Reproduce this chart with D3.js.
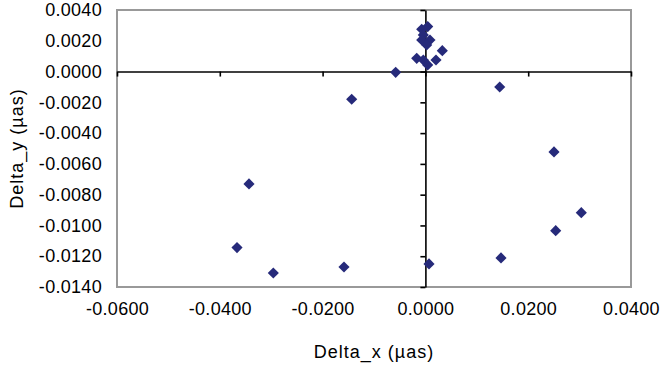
<!DOCTYPE html>
<html>
<head>
<meta charset="utf-8">
<script src="https://cdn.jsdelivr.net/npm/d3@7/dist/d3.min.js"></script>
<style>
  html, body { margin: 0; padding: 0; background: #fff; }
  svg { display: block; }
  text { font-family: "Liberation Sans", Arial, sans-serif; fill: #000; }
</style>
</head>
<body>
<svg id="chart" width="664" height="370"></svg>
<script>
// ---- data ----
const deltaX = [
  0.00045, -0.00072, -0.00041, -0.00072, 0.00089, 0.00025, 0.00329, -0.00169, -0.00041, 0.00206, 0.00045,
  -0.00578, -0.01434,
  -0.03432, -0.03665, -0.02959, -0.01584,
  0.01446, 0.02502, 0.03033, 0.02535, 0.01471,
  0.00070
];
const deltaY = [
  0.00292, 0.00275, 0.00238, 0.00205, 0.00205, 0.00173, 0.00136, 0.00086, 0.00075, 0.00075, 0.00043,
  -0.00005, -0.00180,
  -0.00730, -0.01144, -0.01309, -0.01270,
  -0.00100, -0.00522, -0.00917, -0.01034, -0.01211,
  -0.01250
];
const xTicks = [-0.06, -0.04, -0.02, 0.0, 0.02, 0.04];
const xTickLabels = ["-0.0600", "-0.0400", "-0.0200", "0.0000", "0.0200", "0.0400"];
const yTicks = [0.004, 0.002, 0.0, -0.002, -0.004, -0.006, -0.008, -0.010, -0.012, -0.014];
const yTickLabels = ["0.0040", "0.0020", "0.0000", "-0.0020", "-0.0040", "-0.0060", "-0.0080", "-0.0100", "-0.0120", "-0.0140"];
const xTitle = "Delta_x (µas)";
const yTitle = "Delta_y (µas)";

// ---- layout ----
const plot = { left: 117, right: 631, top: 10, bottom: 287 };
const svg = d3.select("#chart");

const x = d3.scaleLinear().domain([-0.06, 0.04]).range([plot.left, plot.right]);
const y = d3.scaleLinear().domain([-0.014, 0.004]).range([plot.bottom, plot.top]);

// plot border
svg.append("rect")
  .attr("x", plot.left).attr("y", plot.top)
  .attr("width", plot.right - plot.left).attr("height", plot.bottom - plot.top)
  .attr("fill", "none").attr("stroke", "#999").attr("stroke-width", 2);

// zero axes with ticks
const xZeroAxis = d3.axisBottom(x).tickValues(xTicks).tickSize(5).tickFormat("").tickSizeOuter(0);
const gx0 = svg.append("g").attr("transform", `translate(0,${y(0)})`).call(xZeroAxis);
const yZeroAxis = d3.axisLeft(y).tickValues(yTicks).tickSize(5).tickFormat("").tickSizeOuter(0);
const gy0 = svg.append("g").attr("transform", `translate(${x(0)},0)`).call(yZeroAxis);
[gx0, gy0].forEach(g => {
  g.select(".domain").attr("stroke", "#000").attr("stroke-width", 1.6);
  g.selectAll(".tick line").attr("stroke", "#000").attr("stroke-width", 1.6);
});

// tick labels (bottom and left of plot)
const xLab = d3.axisBottom(x).tickValues(xTicks).tickSize(0).tickPadding(15)
  .tickFormat((d, i) => xTickLabels[i]);
const gxl = svg.append("g").attr("transform", `translate(0,${plot.bottom})`).call(xLab);
const yLab = d3.axisLeft(y).tickValues(yTicks).tickSize(0).tickPadding(15)
  .tickFormat((d, i) => yTickLabels[i]);
const gyl = svg.append("g").attr("transform", `translate(${plot.left},0)`).call(yLab);
[gxl, gyl].forEach(g => {
  g.select(".domain").remove();
  g.selectAll("text")
    .attr("font-family", "'Liberation Sans', Arial, sans-serif")
    .attr("font-size", 18).attr("fill", "#000")
    .style("letter-spacing", "0.3px");
});

// axis titles
svg.append("text")
  .attr("x", (plot.left + plot.right) / 2).attr("y", 358)
  .attr("text-anchor", "middle").attr("font-size", 18)
  .style("letter-spacing", "1px")
  .text(xTitle);
svg.append("text")
  .attr("transform", `translate(23,${(plot.top + plot.bottom) / 2}) rotate(-90)`)
  .attr("text-anchor", "middle").attr("font-size", 18)
  .style("letter-spacing", "1px")
  .text(yTitle);

// points
const pts = deltaX.map((d, i) => ({ x: d, y: deltaY[i] }));
const diamond = d3.symbol().type(d3.symbolSquare).size(62);
svg.append("g").selectAll("path").data(pts).join("path")
  .attr("d", diamond)
  .attr("transform", d => `translate(${x(d.x)},${y(d.y)}) rotate(45)`)
  .attr("fill", "#262a7a");
</script>
</body>
</html>
